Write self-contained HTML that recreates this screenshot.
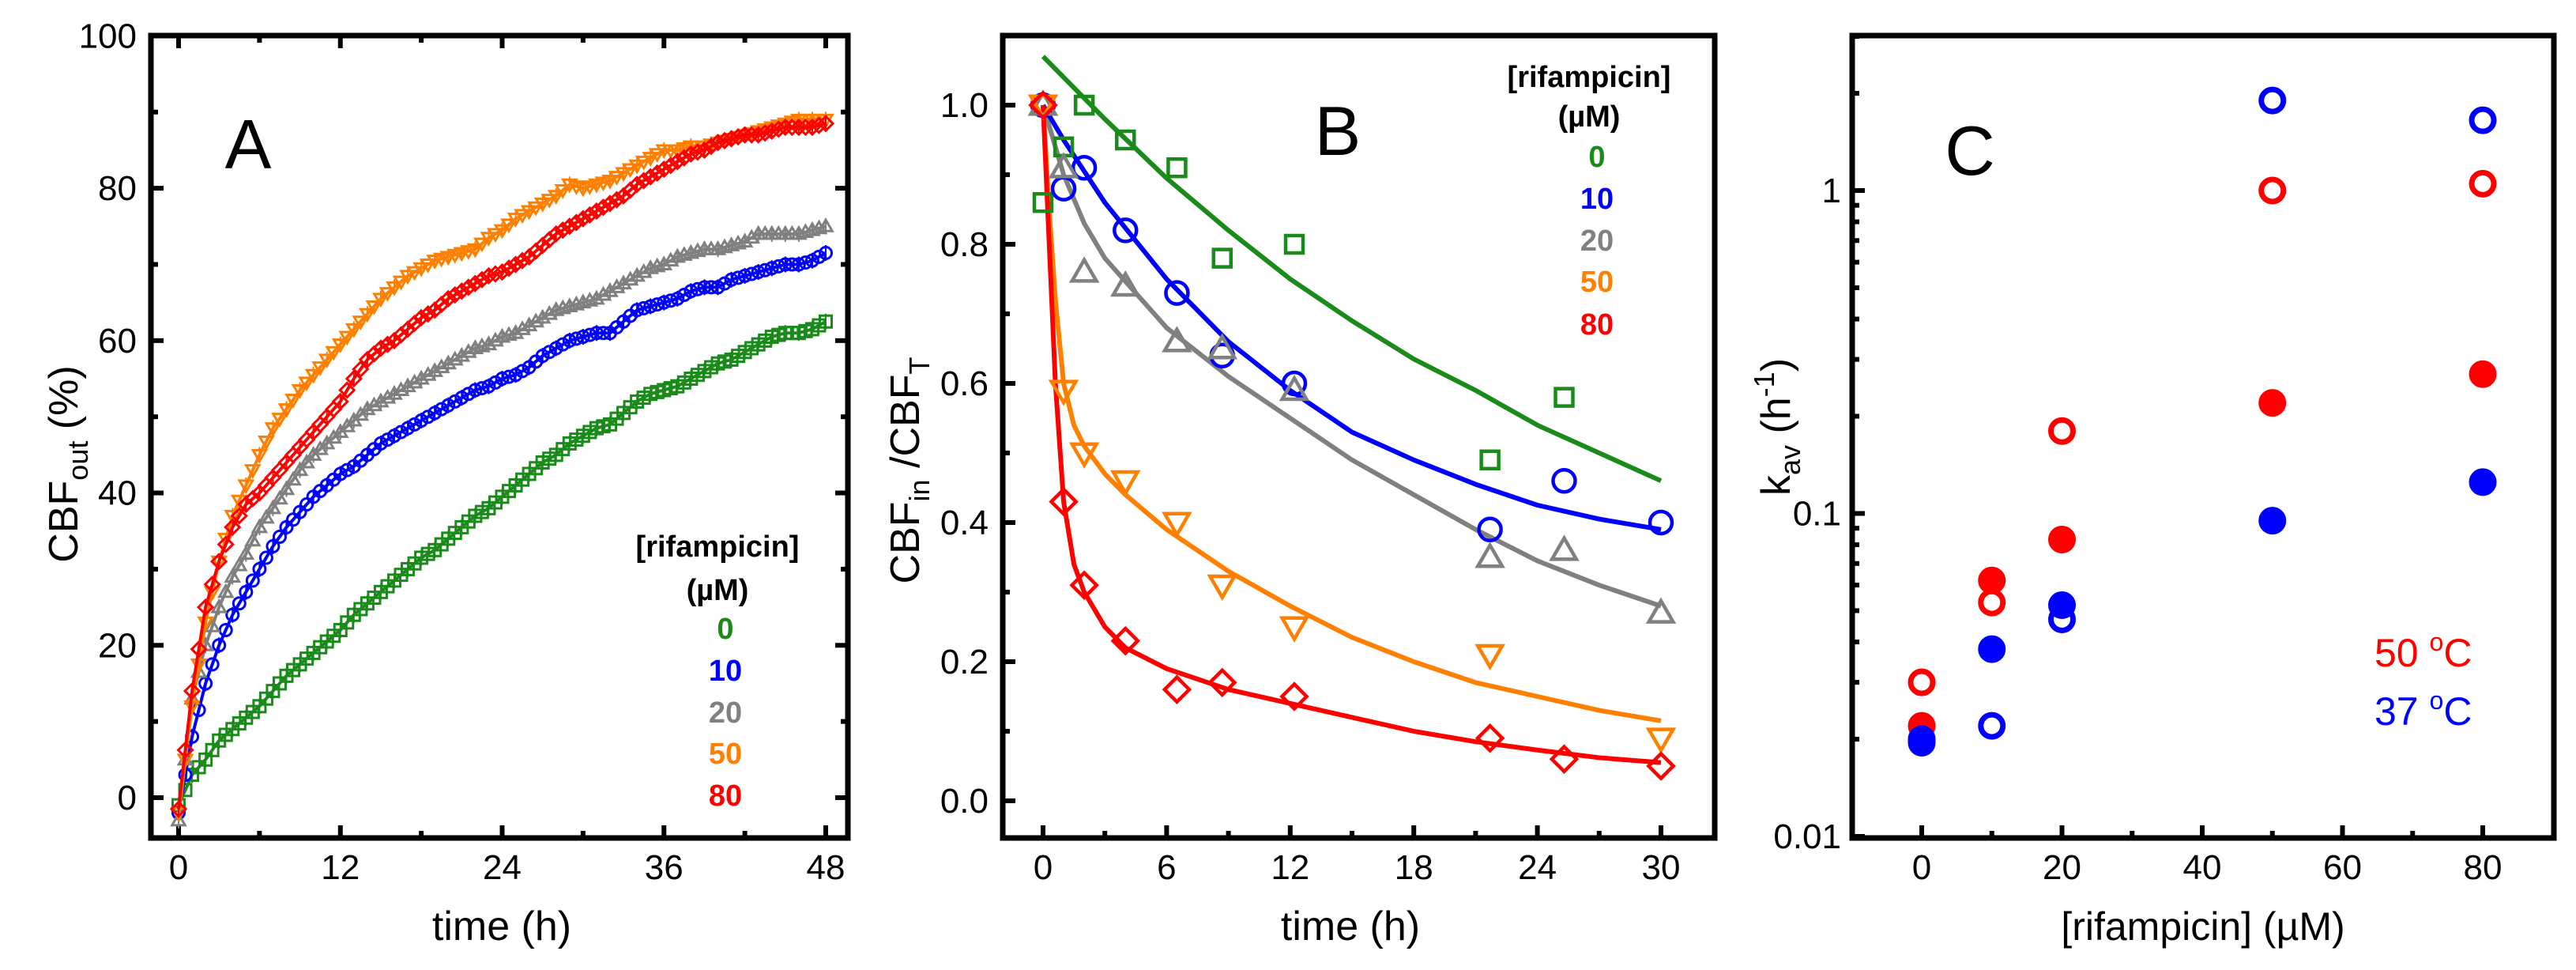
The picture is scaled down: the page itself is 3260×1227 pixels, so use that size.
<!DOCTYPE html>
<html><head><meta charset="utf-8"><style>
html,body{margin:0;padding:0;background:#fff;}
svg{display:block;font-family:"Liberation Sans",Arial,sans-serif;}
</style></head><body>
<svg id="fig" width="3260" height="1227" viewBox="0 0 3260 1227" xmlns="http://www.w3.org/2000/svg"></svg>
<script>
// ---------- Panel A data (time h, CBF_out %) ----------
const aTimes = [0,1,2,3,4,5,6,7,8,9,10,11,12,13,14,15,16,17,18,19,20,21,22,23,24,25,26,27,28,29,30,31,32,33,34,35,36,37,38,39,40,41,42,43,44,45,46,47,48];
const aGreen = [-1,3,5,7.5,9,10.5,12,14,16,17.5,19,20.5,22,24,25.5,27,28.5,30,31.5,32.5,34,35.5,37,38,39.5,41,42.5,44,45,46.5,47.5,48.5,49,50.5,52,53,53.5,54,55,56,57,57.5,58.5,59.5,60.5,61,61,61.5,62.5];
const aBlue = [-2,8,15,20,24,27,30,33,35.5,37.5,39.5,41,42.5,43.5,45,46.5,47.5,48.5,49.5,50.5,51.5,52.5,53.5,54,55,55.5,56.5,58,59,60,60.5,61,61,62.5,64,64.5,65,65.5,66.5,67,67,68,68.5,69,69.5,70,70,70.5,71.5];
const aGray = [-3,13,20,25,29,32,35.5,38,40.5,43,45,46.5,48,49.5,51,52,53,54,55,56,57,58,59,59.5,60.5,61,62,63,64,64.5,65,65.5,66.5,67.5,68.5,69.5,70,71,71.5,72,72,72.5,73,74,74,74,74,74.5,75];
const aOrange = [-2,12,23,31,37,41,45,48.5,51,53.5,55.5,57.5,59.5,61.5,63.5,65.5,67,68.5,69.5,70.5,71,71.5,72,73.5,74.5,76,77,78,79,80.5,80,80.5,81,82,83,84,85,85,85.5,85.5,86,86.5,87,87.5,88,88.5,89,89,89];
const aRed = [-1.5,14,25,31,35.5,38.5,40,42,44,46,48,50,52,55,57.5,59,60,61.5,63,64,65.5,66.5,67.5,68.5,69,70,71,72.5,74,75,76,77,78,79,80.5,81.5,82.5,83.5,84.5,85,86,86.5,87,87,87.5,88,88,88,88.5];
const aXTicks = [0,12,24,36,48];
const aYTicks = [0,20,40,60,80,100];

// ---------- Panel B data ----------
const bTimes = [0,1,2,4,6.5,8.7,12.2,21.7,25.3,30];
const bGreen = [0.86,0.94,1.0,0.95,0.91,0.78,0.80,0.49,0.58,null];
const bBlue = [1.0,0.88,0.91,0.82,0.73,0.64,0.60,0.39,0.46,0.40];
const bGray = [1.0,0.91,0.76,0.74,0.66,0.65,0.59,0.35,0.36,0.27];
const bOrange = [1.0,0.59,0.50,0.46,0.40,0.31,0.25,0.21,null,0.09];
const bRed = [1.0,0.43,0.31,0.23,0.16,0.17,0.15,0.09,0.06,0.05];
const fitGreenT = [0,3,6,9,12,15,18,21,24,27,30];
const fitGreenV = [1.07,0.98,0.895,0.82,0.75,0.69,0.635,0.59,0.54,0.50,0.46];
const fitBlueT = [0,1,3,6,9,12,15,18,21,24,27,30];
const fitBlueV = [1.0,0.95,0.86,0.75,0.66,0.59,0.53,0.49,0.455,0.425,0.405,0.39];
const fitGrayT = [0,1,2,3,6,9,12,15,18,21,24,27,30];
const fitGrayV = [1.0,0.9,0.83,0.78,0.68,0.61,0.55,0.49,0.44,0.39,0.345,0.31,0.28];
const fitOrangeT = [0,0.3,0.6,1,1.5,2,3,4,6,9,12,15,18,21,24,27,30];
const fitOrangeV = [1.0,0.85,0.72,0.60,0.54,0.51,0.47,0.44,0.39,0.33,0.28,0.235,0.2,0.17,0.15,0.13,0.115];
const fitRedT = [0,0.3,0.6,1,1.5,2,3,4,6,9,12,15,18,21,24,27,30];
const fitRedV = [1.0,0.8,0.6,0.43,0.34,0.3,0.25,0.22,0.19,0.16,0.14,0.12,0.10,0.085,0.073,0.062,0.055];
const bXTicks = [0,6,12,18,24,30];
const bYTicks = [0,0.2,0.4,0.6,0.8,1.0];

// ---------- Panel C data ----------
const cConc = [0,10,20,50,80];
const c50Open = [0.030,0.053,0.18,1.0,1.05];
const c50Filled = [0.022,0.062,0.083,0.22,0.27];
const c37Open = [0.020,0.022,0.047,1.9,1.65];
const c37Filled = [0.0195,0.038,0.052,0.095,0.125];
const cXTicks = [0,20,40,60,80];
const cYTicks = [0.01,0.1,1];
const cYLabels = ["0.01","0.1","1"];

const GREEN="#1a8a1a", BLUE="#0000ff", GRAY="#808080", ORANGE="#ff8000", RED="#ff0000";
const svg=document.getElementById('fig');
const NS="http://www.w3.org/2000/svg";
const TB=1060, TT=45; // frame top/bottom
function mk(tag,attrs,parent){const e=document.createElementNS(NS,tag);for(const k in attrs)e.setAttribute(k,attrs[k]);(parent||svg).appendChild(e);return e;}
function txt(x,y,s,size,anchor,fill,weight,parent){const t=mk('text',{x:x,y:y,'font-size':size,'text-anchor':anchor||'middle',fill:fill||'#000','font-weight':weight||'normal'},parent);t.textContent=s;return t;}

function marker(g,shape,cx,cy,r,color,sw,filled){
  let e;
  if(shape==='square'){e=mk('rect',{x:cx-r,y:cy-r,width:2*r,height:2*r},g);}
  else if(shape==='circle'){e=mk('circle',{cx:cx,cy:cy,r:r},g);}
  else if(shape==='up'){e=mk('polygon',{points:`${cx},${cy-r*1.1} ${cx+r*1.1},${cy+r*0.8} ${cx-r*1.1},${cy+r*0.8}`},g);}
  else if(shape==='down'){e=mk('polygon',{points:`${cx},${cy+r*1.1} ${cx+r*1.1},${cy-r*0.8} ${cx-r*1.1},${cy-r*0.8}`},g);}
  else {e=mk('polygon',{points:`${cx},${cy-r*1.2} ${cx+r*1.2},${cy} ${cx},${cy+r*1.2} ${cx-r*1.2},${cy}`},g);}
  e.setAttribute('fill',filled?color:'none');e.setAttribute('stroke',color);e.setAttribute('stroke-width',sw);
  return e;
}

function frame(name,x0,y0,x1,y1){
  const f=mk('rect',{x:x0,y:y0,width:x1-x0,height:y1-y0,fill:'none',stroke:'#000','stroke-width':7});
  
  
}

// ================= Panel A =================
(function(){
  const L=191,R=1073,T=TT,B=TB;
  const sx=t=>226+(t-0)*(1045-226)/48;
  const sy=v=>1009-(v-0)*(1009-45.4)/100;
  const g=mk('g',{});
  
  
  for(let v=0;v<=100;v+=10){const y=sy(v);const major=v%20===0;mk('line',{x1:L,x2:L+(major?16:9),y1:y,y2:y,stroke:'#000','stroke-width':6},g);mk('line',{x1:R,x2:R-(major?16:9),y1:y,y2:y,stroke:'#000','stroke-width':6},g);}
  aYTicks.forEach(v=>{const t=txt(L-18,sy(v)+15,String(v),44,'end','#000','normal',g);});
  for(let v=0;v<=48;v+=6){const x=sx(v);const major=v%12===0;mk('line',{x1:x,x2:x,y1:B,y2:B-(major?16:9),stroke:'#000','stroke-width':6},g);mk('line',{x1:x,x2:x,y1:T,y2:T+(major?16:9),stroke:'#000','stroke-width':6},g);}
  aXTicks.forEach(v=>{const t=txt(sx(v),1112,String(v),44,'middle','#000','normal',g);});
  const series=[[aGreen,GREEN,'square','series-0uM'],[aBlue,BLUE,'circle','series-10uM'],[aGray,GRAY,'up','series-20uM'],[aOrange,ORANGE,'down','series-50uM'],[aRed,RED,'diamond','series-80uM']];
  series.forEach(([vals,col,shape,name])=>{
    const sg=mk('g',{},g);
    
    
    mk('polyline',{points:aTimes.map((t,i)=>sx(t)+','+sy(vals[i])).join(' '),fill:'none',stroke:col,'stroke-width':4},sg);
    aTimes.forEach((t,i)=>{
      mk('line',{x1:sx(t),x2:sx(t),y1:sy(vals[i])-10,y2:sy(vals[i])+10,stroke:col,'stroke-width':2},sg);
      marker(sg,shape,sx(t),sy(vals[i]),7.5,col,3,false);
      if(i<aTimes.length-1){const tm=(t+aTimes[i+1])/2,vm=(vals[i]+vals[i+1])/2;marker(sg,shape,sx(tm),sy(vm),7.5,col,3,false);}
    });
  });
  frame('panel-a-frame',L,T,R,B);
  const lab=txt(314,213,'A',88,'middle','#000','normal',g);
  const xt=txt(635,1189,'time (h)',52,'middle','#000','normal',g);
  const yt=mk('text',{transform:'translate(98,587) rotate(-90)','font-size':52,'text-anchor':'middle'},g);
  
  yt.innerHTML='CBF<tspan font-size="36" dy="13">out</tspan><tspan dy="-13"> (%)</tspan>';
  const leg=mk('g',{},g);
  txt(908,704,'[rifampicin]',38,'middle','#000','bold',leg);
  txt(908,759,'(\u00b5M)',38,'middle','#000','bold',leg);
  [['0',GREEN,808],['10',BLUE,861],['20',GRAY,914],['50',ORANGE,966],['80',RED,1019]].forEach(([s,c,y])=>{const t=txt(918,y,s,38,'middle',c,'bold',leg);});
})();

// ================= Panel B =================
(function(){
  const L=1269,R=2170,T=TT,B=TB;
  const sx=t=>1320+t*(2102-1320)/30;
  const sy=v=>1013-v*(1013-133);
  const g=mk('g',{});
  
  
  for(let k=0;k<=11;k++){const v=k*0.1;const y=sy(v);const major=k%2===0;mk('line',{x1:L,x2:L+(major?16:9),y1:y,y2:y,stroke:'#000','stroke-width':6},g);}
  bYTicks.forEach(v=>{const t=txt(L-18,sy(v)+15,v.toFixed(1),44,'end','#000','normal',g);});
  for(let v=0;v<=30;v+=3){const x=sx(v);const major=v%6===0;mk('line',{x1:x,x2:x,y1:B,y2:B-(major?16:9),stroke:'#000','stroke-width':6},g);}
  bXTicks.forEach(v=>{const t=txt(sx(v),1112,String(v),44,'middle','#000','normal',g);});
  const fits=[[fitGreenT,fitGreenV,GREEN,'fit-0uM'],[fitGrayT,fitGrayV,GRAY,'fit-20uM'],[fitBlueT,fitBlueV,BLUE,'fit-10uM'],[fitOrangeT,fitOrangeV,ORANGE,'fit-50uM'],[fitRedT,fitRedV,RED,'fit-80uM']];
  fits.forEach(([ts,vs,col,name])=>{const p=mk('polyline',{points:ts.map((t,i)=>sx(t)+','+sy(vs[i])).join(' '),fill:'none',stroke:col,'stroke-width':6,'stroke-linejoin':'round'},g);});
  const series=[[bGreen,GREEN,'square','points-0uM',11],[bBlue,BLUE,'circle','points-10uM',14],[bGray,GRAY,'up','points-20uM',14],[bOrange,ORANGE,'down','points-50uM',14],[bRed,RED,'diamond','points-80uM',13]];
  series.forEach(([vals,col,shape,name,r])=>{
    const sg=mk('g',{},g);
    
    
    bTimes.forEach((t,i)=>{if(vals[i]!==null)marker(sg,shape,sx(t),sy(vals[i]),r,col,4.5,false);});
  });
  frame('panel-b-frame',L,T,R,B);
  const lab=txt(1693,196,'B',88,'middle','#000','normal',g);
  const xt=txt(1709,1189,'time (h)',52,'middle','#000','normal',g);
  const yt=mk('text',{transform:'translate(1163,595) rotate(-90)','font-size':52,'text-anchor':'middle'},g);
  
  yt.innerHTML='CBF<tspan font-size="36" dy="13">in</tspan><tspan dy="-13"> /CBF</tspan><tspan font-size="36" dy="13">T</tspan>';
  const leg=mk('g',{},g);
  txt(2011,110,'[rifampicin]',38,'middle','#000','bold',leg);
  txt(2011,160,'(\u00b5M)',38,'middle','#000','bold',leg);
  [['0',GREEN,211],['10',BLUE,264],['20',GRAY,317],['50',ORANGE,369],['80',RED,423]].forEach(([s,c,y])=>{const t=txt(2021,y,s,38,'middle',c,'bold',leg);});
})();

// ================= Panel C =================
(function(){
  const L=2344,R=3232,T=TT,B=TB;
  const sx=c=>2432+c*(3142-2432)/80;
  const sy=v=>1058-(Math.log10(v)+2)*408.5;
  const g=mk('g',{});
  
  
  [0.01,0.1,1].forEach(d=>{for(let m=1;m<=9;m++){const v=d*m;const y=sy(v);if(y<T)continue;mk('line',{x1:L,x2:L+(m===1?16:9),y1:y,y2:y,stroke:'#000','stroke-width':6},g);}});
  cYTicks.forEach((v,i)=>{const t=txt(L-14,sy(v)+15,cYLabels[i],44,'end','#000','normal',g);});
  for(let v=0;v<=80;v+=10){const x=sx(v);const major=v%20===0;mk('line',{x1:x,x2:x,y1:B,y2:B-(major?16:9),stroke:'#000','stroke-width':6},g);}
  cXTicks.forEach(v=>{const t=txt(sx(v),1112,String(v),44,'middle','#000','normal',g);});
  const series=[[c50Open,RED,false,'50C-open'],[c50Filled,RED,true,'50C-filled'],[c37Open,BLUE,false,'37C-open'],[c37Filled,BLUE,true,'37C-filled']];
  series.forEach(([vals,col,filled,name])=>{
    const sg=mk('g',{},g);
    
    
    cConc.forEach((c,i)=>{marker(sg,'circle',sx(c),sy(vals[i]),filled?16:14,col,filled?3:7,filled);});
  });
  frame('panel-c-frame',L,T,R,B);
  const lab=txt(2493,221,'C',88,'middle','#000','normal',g);
  const xt=txt(2788,1189,'[rifampicin] (\u00b5M)',50,'middle','#000','normal',g);
  const yt=mk('text',{transform:'translate(2265,540) rotate(-90)','font-size':52,'text-anchor':'middle'},g);
  
  yt.innerHTML='k<tspan font-size="36" dy="13">av</tspan><tspan dy="-13"> (h</tspan><tspan font-size="36" dy="-20">-1</tspan><tspan dy="20">)</tspan>';
  const leg=mk('g',{},g);
  const l1=mk('text',{x:3005,y:843,'font-size':50,fill:RED},leg);l1.innerHTML='50 <tspan font-size="32" dy="-20">o</tspan><tspan dy="20">C</tspan>';
  
  const l2=mk('text',{x:3005,y:917,'font-size':50,fill:BLUE},leg);l2.innerHTML='37 <tspan font-size="32" dy="-20">o</tspan><tspan dy="20">C</tspan>';
  
})();
</script>
</body></html>
